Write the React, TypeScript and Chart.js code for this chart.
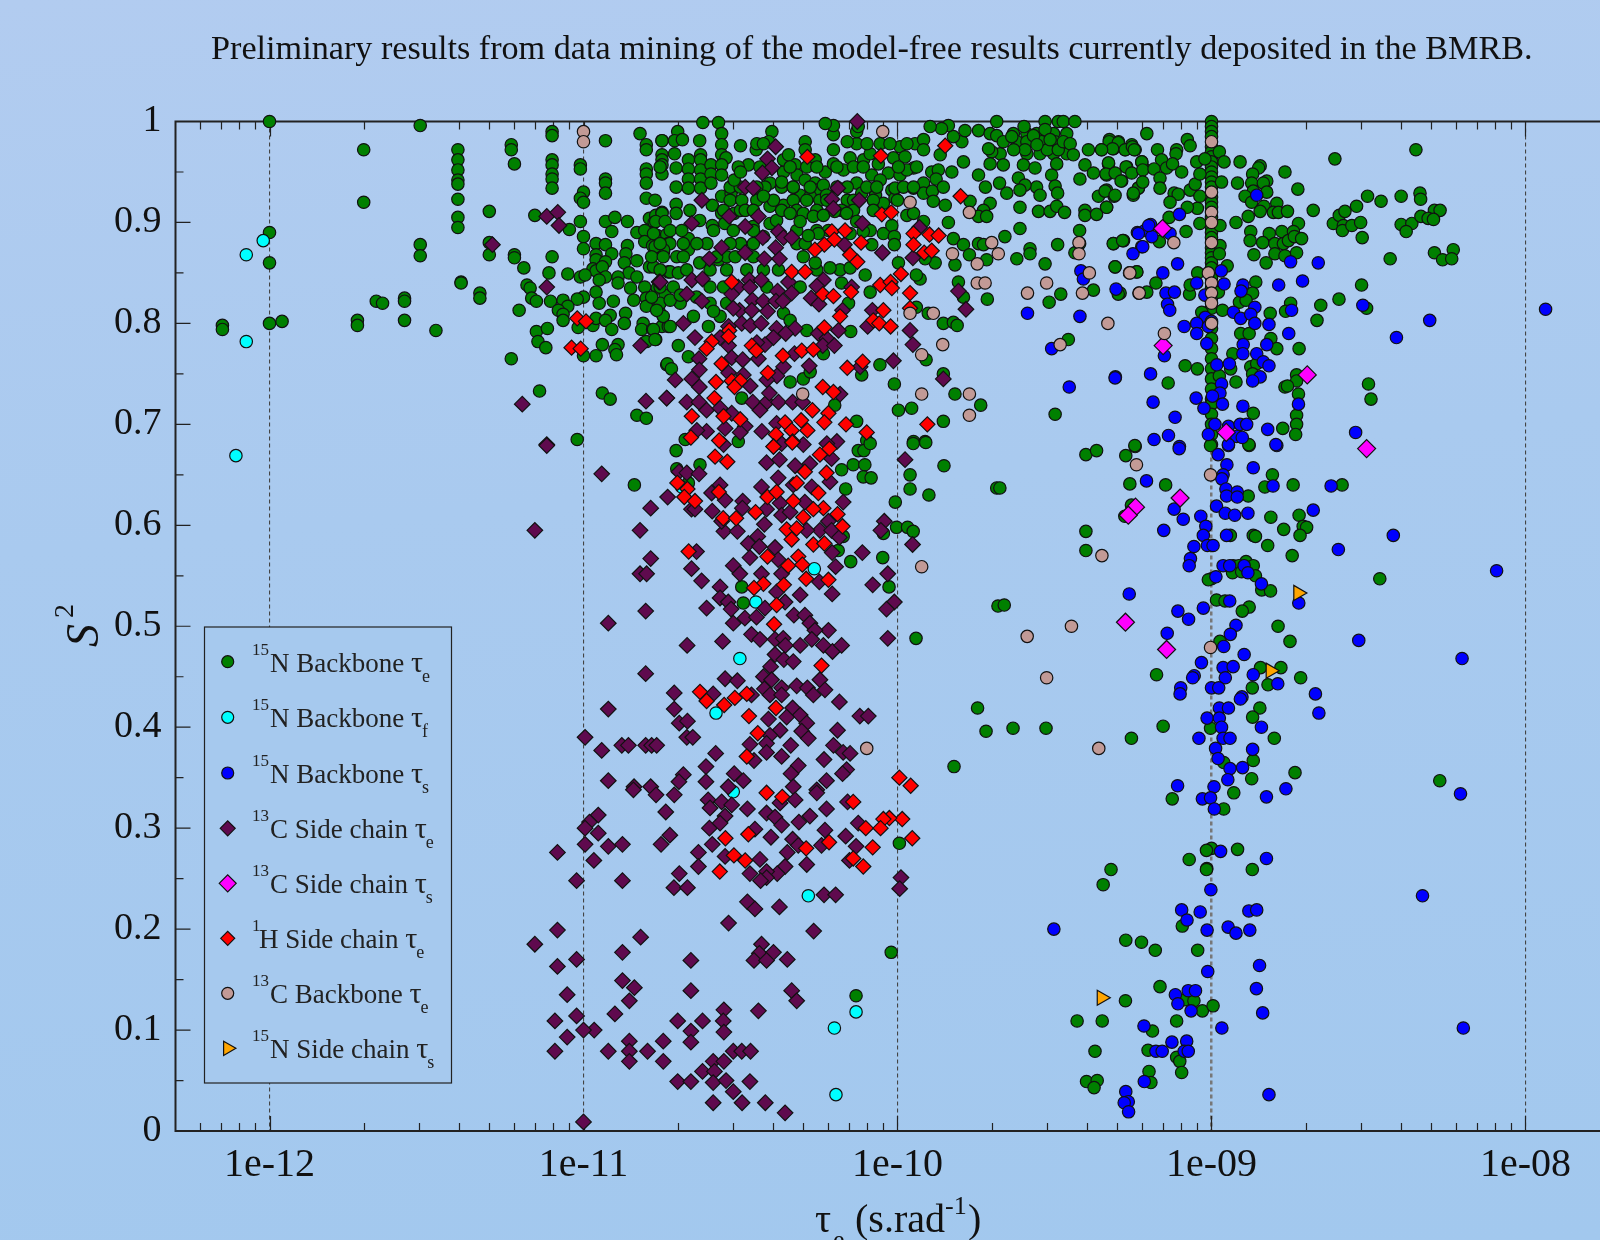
import React, { useEffect, useRef } from "react";
import { Chart, registerables } from "chart.js";
import { drawPoint } from "chart.js/helpers";

Chart.register(...registerables);

// Every pair is [log10(tau in s), S2].
const nBackboneTe: number[][] = [
[-12,1],[-11.52,.996],[-11.7,.972],[-11.7,.92],[-12,.89],[-12,.86],[-12,.8],[-11.96,.802],[-12.15,.798],[-12.15,.794],[-11.72,.803],[-11.72,.798],[-11.66,.822],[-11.64,.82],[-11.57,.825],[-11.57,.822],[-11.57,.803],[-11.47,.793],[-11.52,.878],[-11.52,.867],
[-11.4,.972],[-11.4,.962],[-11.4,.952],[-11.4,.942],[-11.4,.938],[-11.4,.923],[-11.4,.905],[-11.4,.895],[-11.3,.911],[-11.3,.88],[-11.3,.868],[-11.23,.977],[-11.23,.972],[-11.22,.958],[-11.22,.868],[-11.22,.865],[-11.39,.841],[-11.39,.84],[-11.33,.83],[-11.33,.825],[-11.19,.855],[-11.155,.907],
[-11.1,.99],[-11.1,.986],[-11.1,.962],[-11.1,.957],[-11.1,.948],[-11.1,.943],[-11.1,.934],[-11.1,.866],[-11.11,.85],[-11.045,.893],[-11.18,.838],[-11.17,.835],[-11.165,.825],[-11.15,.822],[-11.105,.822],[-11.205,.813],[-11.15,.792],[-11.115,.795],[-11.145,.782],[-11.12,.776],[-11.23,.765],[-11.14,.733],[-10.94,.731],[-10.915,.725],[-10.83,.709],[-10.8,.706],[-11.02,.685],
[-10.93,.981],[-10.82,.988],[-10.75,.981],[-10.8,.977],[-10.8,.972],[-11.01,.957],[-11.01,.953],[-10.93,.943],[-10.93,.939],[-10.93,.929],[-10.8,.953],[-10.8,.948],[-10.8,.939],[-10.8,.924],[-10.75,.967],[-10.75,.962],[-10.75,.957],[-10.75,.948],[-11,.93],[-11.01,.924],[-11,.92],[-11.01,.901],[-11,.886],[-11,.874],
[-10.93,.901],[-10.9,.905],[-10.86,.901],[-10.91,.891],[-10.83,.89],[-10.79,.904],[-10.77,.907],[-10.75,.91],[-10.775,.9],[-10.79,.89],[-10.805,.892],[-10.805,.881],[-10.78,.877],[-10.765,.887],[-10.735,.888],[-10.73,.879],[-10.745,.871],[-10.96,.879],[-10.93,.878],[-10.96,.868],[-10.91,.869],[-10.96,.863],[-10.93,.861],[-10.97,.854],[-10.96,.852],[-10.94,.856],[-11.01,.846],[-10.995,.848],[-11.05,.849],[-10.93,.846],[-10.95,.843],[-10.86,.877],[-10.865,.869],[-10.87,.86],[-10.83,.862],[-10.79,.856],[-10.855,.85],[-10.83,.846],[-10.89,.846],[-10.89,.84],[-10.85,.835],[-10.805,.836],[-10.765,.835],[-10.73,.851],
[-10.96,.831],[-11,.826],[-11.02,.824],[-10.95,.82],[-10.905,.822],[-10.84,.823],[-10.8,.825],[-10.74,.828],[-10.77,.82],[-10.8,.817],[-10.76,.812],[-11.065,.823],[-11.05,.817],[-11.08,.813],[-11.065,.809],[-11.065,.803],[-11.017,.796],[-10.97,.798],[-10.96,.805],[-10.915,.808],[-10.93,.803],[-10.91,.794],[-10.866,.81],[-10.87,.8],[-10.81,.8],[-10.815,.794],[-10.78,.794],[-10.75,.797],[-10.73,.797],[-10.77,.784],[-10.8,.782],[-10.94,.779],[-10.89,.779],[-10.9,.774],[-10.895,.769],[-10.96,.768],[-11,.768],[-10.735,.759],
[-10.62,.999],[-10.57,.999],[-10.7,.99],[-10.56,.988],[-10.75,.981],[-10.71,.981],[-10.685,.982],[-10.63,.981],[-10.56,.977],[-10.5,.976],[-10.4,.99],[-10.41,.98],[-10.45,.972],[-10.475,.957],[-10.71,.968],[-10.705,.954],[-10.666,.962],[-10.666,.953],[-10.666,.943],[-10.666,.934],[-10.627,.967],[-10.627,.962],[-10.627,.952],[-10.627,.943],[-10.627,.934],[-10.594,.957],[-10.594,.948],[-10.594,.939],[-10.56,.967],[-10.546,.964],[-10.56,.957],[-10.56,.947],[-10.56,.926],[-10.53,.929],[-10.705,.935],[-10.705,.918],[-10.705,.909],[-10.75,.909],[-10.77,.901],[-10.725,.879],[-10.777,.889],[-10.74,.901],[-10.666,.884],[-10.63,.902],[-10.59,.917],[-10.56,.909],[-10.52,.909],[-10.5,.912],[-10.59,.897],[-10.55,.899],[-10.607,.879],[-10.666,.873],[-10.703,.866],[-10.745,.873],[-10.772,.876],[-10.777,.856],[-10.724,.851],[-10.698,.85],[-10.63,.86],[-10.57,.863],[-10.544,.866],[-10.5,.879],[-10.46,.896],[-10.427,.886],[-10.406,.899],[-10.385,.902],[-10.363,.917],[-10.406,.916],[-10.406,.939],[-10.363,.95],[-10.363,.962],[-10.326,.957],[-10.347,.967],[-10.32,.947],[-10.294,.942],[-10.294,.98],[-10.294,.972],[-10.262,.962],[-10.23,.95],[-10.204,.958],[-10.204,.972],[-10.204,.987],[-10.204,.996],[-10.23,.998],[-10.172,.952],[-10.13,.978],[-10.13,.99],[-10.125,.995],[-10.16,.98],[-10.108,.962],[-10.151,.964],[-10.087,.968],[-10.082,.947],[-10.13,.939],[-10.16,.935],[-10.262,.939],[-10.257,.932],[-10.236,.937],[-10.31,.927],[-10.278,.926],[-10.247,.922],[-10.226,.927],[-10.16,.922],[-10.114,.929],[-10.07,.927],[-10.018,.932],[-10.008,.924],[-10.045,.919],[-10.008,.934],[-10.029,.949],[-9.992,.947],[-10.061,.958],[-10.055,.942],[-10.013,.964],[-9.992,.975],[-9.976,.965],[-9.944,.978],[-9.917,.982],[-9.917,.972],[-9.949,.954],[-9.97,.952],[-9.949,.934],[-9.917,.939],[-9.891,.95],[-9.87,.952],[-9.877,.943],[-9.917,.929],[-9.889,.931],[-9.886,.921],[-9.854,.935],[-9.848,.917],[-9.827,.95],[-9.864,.967],[-9.79,.96],[-9.795,.98],[-9.822,.985],[-9.785,.991],[-9.742,.991],[-9.838,.996],[-9.86,.993],[-9.896,.995],
[-10.448,.978],[-10.427,.978],[-10.097,.978],[-10.055,.978],[-10.024,.978],[-9.97,.978],
[-10.756,.955],[-10.507,.955],[-10.438,.955],[-10.342,.955],[-10.289,.955],[-10.257,.955],[-10.193,.955],[-10.14,.955],[-10.109,.955],[-9.997,.955],[-9.939,.955],
[-10.533,.935],[-10.501,.935],[-10.422,.935],[-10.369,.935],[-10.332,.935],[-10.278,.935],[-10.193,.935],[-10.098,.935],[-10.066,.935],[-9.981,.935],[-9.949,.935],
[-10.772,.922],[-10.533,.922],[-10.496,.922],[-10.448,.922],[-10.395,.922],[-10.332,.922],[-10.289,.922],[-10.225,.922],[-10.14,.922],[-10.077,.922],
[-10.661,.912],[-10.554,.912],[-10.485,.912],[-10.459,.912],[-10.369,.912],[-10.321,.912],[-10.257,.912],[-10.178,.912],[-10.14,.912],
[-10.724,.892],[-10.687,.892],[-10.586,.892],[-10.523,.892],[-10.459,.892],[-10.321,.892],[-10.257,.892],[-10.22,.892],
[-10.756,.879],[-10.682,.879],[-10.639,.879],[-10.533,.879],[-10.459,.879],[-10.321,.879],[-10.294,.879],
[-10.783,.866],[-10.746,.866],[-10.682,.866],[-10.576,.866],[-10.517,.866],[-10.459,.866],
[-10.756,.853],[-10.671,.853],[-10.597,.853],[-10.544,.853],[-10.48,.853],[-10.427,.853],[-10.379,.853],[-10.257,.853],[-10.183,.853],
[-10.756,.836],[-10.714,.836],[-10.597,.836],[-10.554,.836],[-10.416,.836],[-10.31,.836],
[-10.756,.82],[-10.692,.82],[-10.597,.82],[-10.544,.82],
[-10.746,.807],[-10.65,.807],[-10.565,.807],
[-9.705,.988],[-9.631,.988],[-9.588,.988],[-9.557,.988],[-9.503,.988],[-9.461,.988],[-9.62,.98],[-9.588,.98],[-9.541,.98],[-9.498,.98],[-9.673,.968],[-9.588,.968],[-9.546,.968],[-9.503,.968],[-9.461,.968],
[-9.684,1],[-9.684,.986],[-9.7,.97],[-9.663,.98],[-9.636,.985],[-9.597,.995],[-9.567,.986],[-9.53,1],[-9.53,.992],[-9.488,1],[-9.472,1],[-9.435,1],[-9.594,.972],[-9.523,.972],[-9.488,.972],[-9.472,.98],[-9.45,.978],[-9.44,.967],[-9.514,.982],[-9.556,.977],[-9.63,.972],[-9.71,.973],[-9.663,.957],[-9.705,.958],[-9.599,.957],[-9.562,.954],[-9.493,.958],[-9.509,.947],[-9.615,.944],[-9.557,.935],[-9.594,.937],[-9.61,.932],[-9.498,.936],[-9.49,.929],[-9.546,.927],[-9.652,.929],[-9.675,.939],[-9.72,.935],[-9.742,.947],[-9.705,.919],[-9.769,.921],[-9.726,.912],[-9.742,.906],[-9.716,.906],[-9.551,.911],[-9.514,.911],[-9.493,.916],[-9.468,.91],[-9.61,.915],[-9.61,.894],[-9.658,.886],[-9.578,.874],[-9.578,.869],[-9.62,.864],[-9.53,.859],[-9.49,.878],[-9.42,.892],[-9.435,.87],[-9.42,.879],
[-9.392,.972],[-9.35,.972],[-9.312,.973],[-9.296,.98],[-9.325,.982],[-9.254,.977],[-9.275,.972],[-9.243,.972],[-9.403,.957],[-9.328,.958],[-9.27,.955],[-9.222,.96],[-9.217,.954],[-9.376,.949],[-9.334,.947],[-9.419,.943],[-9.286,.941],[-9.233,.934],[-9.249,.927],[-9.31,.926],[-9.36,.926],[-9.334,.932],[-9.334,.915],[-9.403,.912],[-9.403,.907],[-9.366,.908],[-9.312,.879],[-9.28,.882],[-9.307,.856],[-9.238,.851],[-9.376,.833],[-9.48,.829],[-9.517,.821],[-9.291,.83],
[-9.997,.86],[-9.928,.844],[-9.94,.848],[-9.806,.841],[-9.79,.826],[-9.714,.824],[-9.902,.81],[-9.854,.8],[-9.822,.801],[-9.81,.798],[-9.94,.816],[-9.838,.9],[-9.822,.884],[-9.79,.878],[-9.771,.868],[-9.817,.858],[-9.88,.86],[-9.912,.864],[-9.742,.879],[-9.726,.878],[-9.716,.863],[-9.456,.784],[-9.498,.71],[-9.735,.719],[-9.817,.73],[-9.854,.75],[-9.909,.764],[-9.955,.716],[-9.997,.714],[-10.01,.74],[-10.056,.759],[-10.114,.749],[-10.149,.792],[-10.289,.793],[-10.342,.742],[-10.3,.745],[-10.278,.752],[-10.156,.82],[-10.087,.831],[-10.103,.848],[-10.151,.855],[-10.215,.855],[-10.262,.86],[-10.3,.866],[-10.178,.84],[-10.363,.81],[-10.342,.803],[-10.602,.797],[-10.698,.778],[-10.733,.76],[-10.72,.755],[-10.666,.767],[-10.496,.726],[-10.777,.794],[-10.724,.797],[-10.772,.784],[-10.724,.823],[-10.783,.826],[-10.767,.813],[-10.586,.812],[-10.64,.826],[-10.692,.828],[-10.13,.703],[-10.098,.684],[-9.854,.703],[-9.949,.683],[-9.912,.683],[-10.2,.719],[-10.236,.77],[-10.507,.683],[-10.676,.685],
[-10.52,.942],[-10.5,.95],[-10.448,.935],[-10.427,.926],[-10.369,.94],[-10.332,.935],[-10.3,.909],[-10.268,.906],[-10.236,.907],[-10.2,.911],[-10.162,.909],[-10.13,.901],[-10.087,.892],[-10.045,.889],[-10.018,.897],[-10.01,.886],[-10.01,.878],[-10.082,.878],[-10.109,.891],[-10.151,.889],[-10.252,.889],[-10.284,.887],[-10.31,.901],[-10.342,.909],[-9.97,.907],[-9.949,.909],[-9.917,.901],[-10,.922],[-10.077,.912],
[-9,1],[-9,.995],[-9,.99],[-9,.985],[-9,.975],[-9,.97],[-9,.965],[-9,.96],[-9,.955],[-9,.95],[-9,.945],[-9,.94],[-9,.935],[-9,.925],[-9,.92],[-9,.915],[-9,.905],[-9,.895],[-9,.89],[-9,.885],[-9,.875],[-9,.87],[-9,.865],[-9,.86],[-9,.855],[-9,.845],[-9,.835],[-9,.825],[-9,.815],[-9,.795],[-9,.785],[-9,.775],[-9,.765],[-9,.755],[-9,.745],[-9,.735],[-9,.725],[-9,.72],[-9,.71],[-9,.7],[-9,.69],[-9,.68],[-9,.547],[-9,.28],[-9.015,.26],
[-9.206,.988],[-9.326,.98],[-9.297,.979],[-9.315,.973],[-9.275,.972],[-9.252,.975],[-9.246,.972],[-9.35,.972],[-9.172,.972],[-9.159,.962],[-9.111,.972],[-9.077,.982],[-9.068,.976],[-9.113,.968],[-9.328,.959],[-9.272,.955],[-9.254,.949],[-9.222,.96],[-9.219,.952],[-9.183,.953],[-9.143,.954],[-9.124,.958],[-9.095,.95],[-9.164,.944],[-9.336,.948],[-9.307,.949],[-9.288,.941],[-9.233,.934],[-9.219,.94],[-9.164,.934],[-9.339,.931],[-9.307,.927],[-9.249,.929],[-9.119,.929],[-9.106,.928],[-9.132,.92],[-9.334,.915],[-9.068,.932],[-9.047,.96],[-9.021,.963],[-8.975,.97],[-8.96,.96],[-8.909,.96],[-8.845,.956],[-8.85,.954],[-8.869,.948],[-8.766,.95],[-8.968,.94],[-8.917,.939],[-8.872,.939],[-8.824,.941],[-8.835,.939],[-8.867,.931],[-8.824,.93],[-8.893,.926],[-8.725,.933],[-8.607,.963],[-8.349,.972],[-8.503,.926],[-8.46,.921],[-8.538,.916],[-8.396,.926],[-8.336,.929],[-8.334,.923],[-8.29,.912],[-8.272,.912],[-8.676,.912],[-8.792,.919],[-8.833,.916],[-8.872,.92],[-8.845,.911],[-8.803,.91],[-8.787,.91],[-8.758,.911],[-8.883,.906],[-8.723,.899],[-8.922,.9],[-9.081,.891],[-9.037,.899],[-9.045,.914],[-9.077,.915],[-9.037,.926],[-9.052,.938],[-9.037,.948],[-9.135,.905],[-8.973,.897],[-8.875,.891],[-8.816,.889],[-8.776,.891],[-8.739,.891],[-8.877,.882],[-8.837,.88],[-8.798,.879],[-8.771,.879],[-8.755,.882],[-8.736,.886],[-8.713,.884],[-8.865,.868],[-8.826,.86],[-8.798,.869],[-8.766,.867],[-8.729,.87],[-8.612,.899],[-8.593,.907],[-8.575,.911],[-8.58,.897],[-8.583,.892],[-8.553,.897],[-8.525,.9],[-8.52,.885],[-8.396,.898],[-8.362,.899],[-8.38,.891],[-8.333,.906],[-8.31,.904],[-8.293,.903],[-8.431,.864],[-8.29,.87],[-8.23,.873],[-8.264,.863],[-8.235,.864],[-9.313,.879],[-9.283,.882],[-9.166,.881],[-8.973,.877],[-8.975,.869],[-9.307,.856],[-9.238,.851],[-8.95,.857],[-9.044,.85],[-9.177,.84],[-9.297,.829],[-9.206,.831],[-9.07,.829],[-9.068,.838],[-8.978,.831],[-8.859,.841],[-8.869,.83],[-8.911,.821],[-8.89,.823],[-8.748,.82],[-8.764,.812],[-8.813,.81],[-8.652,.818],[-8.594,.824],[-8.522,.838],[-8.506,.815],[-8.664,.803],[-8.965,.813],[-9.031,.811],[-8.907,.79],[-8.88,.79],[-8.811,.785],[-8.792,.775],[-8.721,.775],[-8.932,.77],[-9.084,.758],[-9.045,.755],[-9.138,.741],[-8.875,.757],[-8.856,.76],[-8.939,.755],[-8.975,.748],[-8.922,.742],[-8.869,.75],[-8.729,.749],[-8.729,.743],[-8.766,.737],[-8.758,.738],[-8.723,.73],[-8.5,.74],[-8.492,.725],[-8.729,.709],[-8.729,.7],[-8.732,.69],[-8.867,.711],[-8.773,.696],[-9.243,.678],[-8.88,.679],
[-10.838,.64],[-10.705,.674],[-10.703,.656],[-10.629,.66],[-10.666,.642],[-10.178,.655],[-10.141,.66],[-10.104,.66],[-10.109,.648],[-10.084,.647],[-10.125,.674],[-10.107,.674],[-10.087,.681],[-9.95,.681],[-9.91,.682],[-9.852,.659],[-9.96,.65],[-9.96,.636],[-9.9,.63],[-10.007,.623],[-10.165,.636],[-10.003,.598],[-9.968,.598],[-9.95,.594],[-10.045,.592],[-10.173,.589],[-10.189,.575],[-10.149,.564],[-10.047,.568],[-10.027,.539],[-9.941,.488],[-10.496,.539],[-10.491,.523],[-9.745,.419],[-9.718,.396],[-9.82,.361],[-9.684,.637],[-9.68,.52],[-9.994,.285],[-10.02,.177],[-10.132,.134],
[-9.4,.67],[-9.366,.674],[-9.273,.669],[-9.244,.679],[-9.003,.679],[-8.881,.68],[-9.26,.641],[-9.146,.64],[-9.674,.637],[-8.806,.65],[-8.83,.638],[-8.74,.64],[-8.584,.64],[-8.883,.629],[-8.811,.608],[-8.721,.61],[-8.77,.596],[-8.708,.599],[-8.697,.598],[-8.718,.59],[-8.821,.58],[-8.743,.57],[-8.94,.59],[-8.867,.59],[-8.86,.589],[-9.276,.609],[-9.4,.594],[-9.4,.575],[-9.255,.62],[-8.89,.564],[-8.931,.56],[-8.867,.56],[-8.913,.56],[-8.933,.553],[-8.86,.55],[-8.904,.554],[-9.01,.546],[-8.84,.536],[-8.812,.535],[-8.984,.526],[-8.957,.525],[-8.88,.519],[-8.902,.515],[-8.788,.5],[-8.75,.485],[-8.973,.485],[-8.464,.547],[-9.175,.452],[-8.844,.459],[-8.779,.459],[-8.716,.449],[-8.82,.442],[-8.87,.439],[-8.846,.419],[-8.869,.41],[-9.003,.399],[-8.8,.389],[-8.867,.367],[-8.961,.365],[-8.872,.349],[-8.734,.355],[-8.273,.347],[-9.154,.401],[-9.255,.389],[-9.632,.399],[-9.527,.399],[-9.66,.521],
[-9.125,.329],[-8.961,.319],[-8.929,.335],[-9.016,.278],[-8.917,.279],[-9.071,.269],[-9.016,.259],[-8.87,.259],[-9.32,.259],[-9.345,.244],[-9.093,.203],[-9.273,.189],[-9.223,.187],[-9.179,.179],[-9.044,.179],[-9.164,.143],[-9.274,.129],[-9.085,.13],[-9.056,.129],[-9.029,.119],[-8.995,.124],[-9.111,.109],[-9.428,.109],[-9.348,.109],[-9.188,.099],[-9.371,.079],[-9.202,.08],[-9.111,.073],[-9.101,.069],[-9.095,.058],[-9.199,.059],[-9.193,.048],[-9.398,.049],[-9.364,.05],[-9.374,.043]
];

const nBackboneTf: number[][] = [
[-12.02,.882],[-12.074,.868],[-12.074,.782],[-12.107,.669],[-10.502,.468],[-10.578,.414],[-10.451,.524],[-10.265,.557],[-10.687,.638],[-10.284,.233],[-10.132,.118],[-10.201,.102],[-10.196,.036],[-10.523,.336]
];

const nBackboneTs: number[][] = [
[-8.856,.927],[-9.102,.908],[-9.194,.898],[-9.236,.89],[-9.212,.892],[-9.19,.886],[-9.132,.889],[-9.222,.876],[-9.25,.869],[-9.108,.859],[-9.155,.85],[-8.748,.861],[-8.66,.86],[-8.969,.852],[-8.96,.839],[-9.047,.84],[-8.786,.838],[-8.71,.842],[-8.9,.838],[-8.906,.832],[-9.304,.834],[-9.145,.83],[-9.118,.831],[-9.021,.828],[-9.14,.819],[-9.133,.813],[-8.862,.816],[-8.93,.811],[-8.745,.813],[-8.518,.818],[-8.907,.805],[-8.875,.809],[-8.862,.8],[-8.817,.799],[-9.02,.806],[-9,.802],[-9.047,.8],[-9.087,.797],[-9.047,.79],[-9.01,.797],[-8.754,.79],[-8.411,.786],[-8.305,.803],[-7.936,.814],[-9.015,.78],[-8.899,.779],[-8.824,.779],[-8.9,.77],[-8.856,.77],[-9.15,.768],[-8.835,.762],[-8.817,.758],[-8.983,.759],[-8.943,.76],[-9.306,.747],[-9.194,.75],[-8.845,.747],[-8.869,.743],[-8.968,.74],[-8.973,.731],[-8.997,.728],[-9.049,.726],[-8.723,.72],[-9.186,.722],[-8.965,.72],[-8.9,.718],[-9.024,.716],[-9.116,.707],[-8.989,.7],[-8.946,.698],[-8.909,.7],[-8.888,.7],[-8.821,.695],[-8.541,.692],[-9.01,.69],[-9.137,.689],[-9.183,.685],[-8.92,.688],[-8.902,.687],[-8.792,.679],[-8.946,.679],[-9.102,.678],
[-9.233,.889],[-9.2,.897],[-9.219,.876],[-9.416,.852],[-9.408,.844],[-9.586,.81],[-9.419,.807],[-9.509,.775],[-9.307,.746],[-9.453,.737],
[-9.103,.676],[-8.979,.67],[-8.946,.68],[-8.795,.68],[-8.951,.66],[-8.867,.657],[-8.963,.65],[-8.967,.646],[-9.207,.644],[-8.804,.639],[-8.619,.639],[-8.954,.636],[-8.918,.633],[-8.952,.629],[-8.918,.628],[-8.984,.619],[-8.956,.612],[-8.926,.61],[-8.884,.612],[-8.676,.615],[-9.119,.616],[-9.034,.609],[-9.09,.606],[-9.018,.599],[-9.152,.595],[-9.026,.59],[-8.952,.59],[-8.421,.59],[-8.596,.576],[-9.056,.579],[-9.013,.58],[-8.995,.58],[-9.067,.567],[-9.071,.56],[-8.963,.56],[-8.942,.56],[-8.896,.56],[-8.884,.553],[-8.986,.549],[-8.841,.542],[-8.092,.555],[-8.722,.523],[-8.942,.525],[-9.026,.518],[-9.107,.515],[-9.262,.532],[-9.073,.507],[-8.922,.501],[-8.94,.492],[-9.141,.493],[-8.961,.48],[-8.531,.486],[-8.202,.468],[-8.896,.472],[-9.032,.464],[-8.963,.459],[-8.931,.46],[-8.867,.452],[-8.956,.449],[-9.055,.451],[-9.06,.449],[-8.789,.443],[-9,.439],[-8.977,.439],[-9.098,.439],[-9.1,.433],[-8.669,.433],[-8.903,.43],[-8.908,.428],[-8.658,.414],[-8.975,.419],[-8.946,.419],[-9.014,.409],[-8.975,.409],[-8.841,.4],[-8.968,.4],[-9.04,.389],[-8.963,.389],[-8.941,.389],[-8.987,.379],[-8.869,.378],[-8.979,.369],[-8.941,.359],[-8.901,.36],[-8.948,.348],[-9.108,.342],[-8.992,.341],[-8.763,.339],
[-9.029,.329],[-9.003,.33],[-8.991,.319],[-8.825,.331],[-8.207,.334],[-8.971,.277],[-8.825,.27],[-9.002,.239],[-8.328,.233],[-9.095,.219],[-9.036,.217],[-8.881,.218],[-8.856,.219],[-9.078,.209],[-9.502,.2],[-9.014,.199],[-8.947,.202],[-8.922,.196],[-8.878,.199],[-8.847,.164],[-9.012,.158],[-8.857,.141],[-9.115,.135],[-9.074,.139],[-9.051,.139],[-9.107,.126],[-9.065,.119],[-8.837,.117],[-8.967,.102],[-8.198,.102],[-9.215,.104],[-9.126,.088],[-9.079,.089],[-9.087,.079],[-9.074,.079],[-9.177,.079],[-9.157,.079],[-9.214,.049],[-8.817,.036],[-9.273,.039],[-9.265,.029],[-9.278,.028],[-9.264,.019]
];

const cSideChainTe: number[][] = [
[-11.117,.906],[-11.082,.91],[-11.078,.897],[-11.29,.878],[-11.117,.836],[-10.759,.841],[-10.818,.778],[-11.195,.72],[-10.801,.723],[-10.735,.726],[-11.117,.68],
[-10.128,1],[-10.388,.975],[-10.414,.963],[-10.4,.954],[-10.43,.949],[-10.485,.935],[-10.459,.934],[-10.623,.922],[-10.19,.934],[-10.209,.923],[-10.122,.922],[-10.204,.914],[-10.536,.906],[-10.443,.906],[-10.655,.899],[-10.485,.896],[-10.112,.899],[-9.93,.895],[-10.429,.885],[-10.379,.891],[-10.363,.885],[-10.337,.885],[-10.56,.875],[-10.388,.875],[-10.485,.87],[-10.169,.878],[-10.599,.864],[-10.424,.864],[-10.376,.864],[-10.048,.87],[-9.951,.865],[-10.756,.841],[-10.655,.843],[-10.621,.844],[-10.472,.843],[-10.434,.843],[-10.347,.841],[-10.236,.843],[-10.257,.837],[-10.507,.836],[-10.47,.836],[-10.528,.829],[-10.382,.832],[-10.671,.829],[-10.337,.83],[-10.623,.822],[-10.462,.823],[-10.427,.822],[-10.387,.822],[-10.365,.822],[-10.275,.825],[-10.25,.819],[-10.146,.836],[-10.503,.813],[-10.464,.813],[-10.523,.815],[-10.414,.812],[-10.682,.8],[-9.806,.832],[-9.782,.814],[-10.08,.813],[-10.175,.813],[-10.496,.8],[-10.469,.798],[-10.434,.8],[-10.538,.797],[-10.326,.795],[-10.385,.795],[-10.356,.79],[-10.645,.786],[-10.565,.786],[-10.188,.793],[-10.252,.79],[-10.225,.785],[-10.095,.797],[-9.96,.793],[-9.951,.779],[-10.238,.778],[-10.201,.778],[-10.395,.786],[-10.422,.779],[-10.538,.778],[-10.448,.781],[-10.528,.766],[-10.632,.765],[-10.493,.764],[-10.443,.765],[-10.328,.77],[-10.281,.758],[-10.363,.757],[-10.384,.748],[-10.631,.754],[-10.013,.763],[-10.119,.757],[-10.538,.751],[-10.708,.744],[-10.655,.745],[-10.631,.737],[-10.491,.749],[-10.416,.744],[-10.469,.738],[-9.854,.745],[-10.735,.726],[-10.671,.722],[-10.632,.722],[-10.608,.714],[-10.528,.711],[-10.461,.722],[-10.416,.722],[-10.379,.722],[-10.438,.714],[-10.408,.731],[-10.334,.722],[-10.183,.73],[-10.302,.722],[-10.565,.716],[-10.485,.698],[-10.549,.696],[-10.608,.693],[-10.639,.694],[-10.501,.692],[-10.432,.693],[-10.385,.701],[-10.193,.683],[-10.225,.681],[-10.3,.68],[-10.554,.68],[-10.369,.681],
[-11.117,.679],[-9.976,.665],[-10.942,.651],[-10.696,.653],[-10.671,.652],[-10.632,.651],[-10.417,.662],[-10.376,.665],[-10.326,.659],[-10.21,.666],[-10.279,.661],[-10.732,.628],[-10.786,.617],[-10.433,.638],[-10.592,.632],[-10.565,.64],[-10.549,.625],[-10.493,.624],[-10.38,.647],[-10.332,.64],[-10.273,.638],[-10.215,.643],[-10.173,.623],[-10.656,.616],[-10.645,.616],[-10.59,.614],[-10.494,.617],[-10.417,.616],[-10.374,.622],[-10.295,.623],[-10.369,.61],[-10.342,.613],[-11.155,.595],[-10.82,.595],[-10.553,.594],[-10.51,.594],[-10.56,.604],[-10.424,.601],[-10.22,.604],[-10.247,.595],[-10.21,.595],[-10.289,.595],[-10.185,.588],[-10.445,.589],[-10.475,.582],[-10.44,.579],[-10.39,.578],[-10.47,.568],[-10.38,.566],[-10.64,.574],[-10.786,.567],[-10.208,.573],[-10.112,.573],[-10.042,.604],[-10.053,.595],[-9.952,.581],[-10.197,.559],[-10.523,.56],[-10.502,.552],[-10.656,.557],[-10.82,.552],[-10.799,.552],[-10.624,.545],[-10.565,.539],[-10.369,.552],[-10.433,.552],[-10.249,.544],[-10.079,.541],[-10.031,.552],[-10.31,.531],[-10.208,.532],[-10.385,.534],[-10.358,.524],[-10.565,.528],[-10.539,.524],[-10.608,.518],[-10.53,.517],[-10.422,.518],[-10.802,.515],[-10.01,.524],[-10.035,.517],[-10.921,.503],[-10.486,.508],[-10.523,.503],[-10.449,.509],[-10.33,.511],[-10.295,.511],[-10.279,.503],[-10.22,.496],[-10.263,.496],[-10.465,.492],[-10.438,.487],[-10.39,.487],[-10.364,.488],[-10.557,.485],[-10.67,.481],[-10.273,.487],[-10.31,.481],[-10.357,.481],[-10.236,.481],[-10.207,.475],[-10.178,.481],[-10.031,.488],[-10.39,.472],[-10.362,.467],[-10.332,.465],[-10.404,.46],[-10.802,.453],[-10.549,.448],[-10.51,.446],[-10.427,.45],[-10.401,.447],[-10.247,.447],[-10.369,.439],[-10.321,.441],[-10.287,.439],[-10.231,.437],[-10.424,.438],[-10.406,.432],[-10.369,.432],[-10.268,.432],[-10.711,.434],[-10.587,.433],[-10.465,.432],[-10.185,.425],[-10.921,.418],[-10.711,.418],[-10.334,.419],[-10.31,.412],[-10.353,.41],[-10.411,.408],[-10.695,.404],[-10.669,.406],[-10.289,.404],[-10.12,.411],[-10.093,.411],[-10.374,.397],[-10.305,.396],[-10.191,.397],[-10.995,.39],[-10.406,.392],[-10.284,.389],[-10.671,.39],[-10.652,.39],[-10.47,.383],[-10.204,.382],[-10.417,.384],[-10.942,.377],[-10.878,.382],[-10.857,.382],[-10.802,.382],[-10.783,.382],[-10.767,.382],[-10.34,.382],[-10.579,.374],[-10.417,.375],[-10.369,.371],[-10.234,.368],[-10.173,.375],[-10.151,.374],[-10.457,.367],[-10.61,.361],[-10.316,.362],[-10.162,.358],[-10.175,.354],[-10.339,.354],[-10.52,.354],[-10.682,.353],[-10.696,.346],[-10.61,.346],[-10.491,.347],[-10.226,.347],[-10.921,.347],[-10.839,.341],[-10.786,.341],[-10.539,.341],[-10.332,.341],[-10.257,.338],
[-10.841,.338],[-10.769,.333],[-10.711,.333],[-10.603,.328],[-10.56,.326],[-10.528,.323],[-10.478,.319],[-10.738,.316],[-10.597,.32],[-10.549,.312],[-10.326,.328],[-10.257,.335],[-10.226,.319],[-10.159,.326],[-10.374,.325],[-10.417,.315],[-10.39,.311],[-10.369,.303],[-10.279,.312],[-10.314,.306],[-10.953,.313],[-10.981,.306],[-10.995,.3],[-10.953,.295],[-10.599,.3],[-10.565,.305],[-10.725,.293],[-10.454,.299],[-10.231,.298],[-10.125,.305],[-10.995,.284],[-10.921,.282],[-10.876,.284],[-10.753,.284],[-11.083,.276],[-10.59,.284],[-10.403,.291],[-10.334,.289],[-10.316,.283],[-10.165,.292],[-10.242,.283],[-10.132,.282],[-10.967,.268],[-10.634,.276],[-10.351,.276],[-10.549,.272],[-10.438,.269],[-10.153,.268],[-10.634,.262],[-10.289,.264],[-10.358,.262],[-11.022,.248],[-10.876,.248],[-10.695,.255],[-10.47,.255],[-10.383,.255],[-10.417,.257],[-10.417,.251],[-10.436,.248],[-9.989,.251],[-9.993,.24],[-10.712,.241],[-10.669,.241],[-10.234,.234],[-10.197,.234],[-10.478,.227],[-10.454,.22],[-10.376,.222],[-10.538,.206],[-10.267,.198],[-11.083,.199],[-10.818,.192],[-11.155,.185],[-10.433,.185],[-10.876,.177],[-10.44,.176],[-10.395,.177],[-11.022,.17],[-11.083,.163],[-10.658,.169],[-10.457,.169],[-10.417,.169],[-10.351,.17],[-10.876,.149],[-10.838,.142],[-10.658,.139],[-10.337,.139],[-11.052,.135],[-10.321,.129],[-10.854,.129],[-10.553,.12],[-10.443,.119],[-10.9,.116],[-11.022,.114],[-11.091,.109],[-10.7,.109],[-10.621,.109],[-10.555,.109],[-10.966,.1],[-11,.1],[-10.658,.099],[-10.553,.098],[-11.052,.093],[-10.854,.089],[-10.746,.089],[-10.658,.088],[-11.091,.079],[-10.921,.079],[-10.854,.079],[-10.796,.079],[-10.523,.079],[-10.496,.079],[-10.468,.079],[-10.746,.069],[-10.854,.069],[-10.587,.069],[-10.553,.069],[-10.621,.059],[-10.583,.059],[-10.7,.049],[-10.658,.049],[-10.587,.048],[-10.546,.05],[-10.47,.049],[-10.523,.039],[-10.587,.028],[-10.495,.028],[-10.421,.028],[-10.358,.018],[-11,.009]
];

const cSideChainTs: number[][] = [
[-8.506,.676],[-9.1,.627],[-9.242,.618],[-9.265,.61],[-9.274,.504],[-9.143,.477],[-9.156,.894],[-9.154,.778],[-8.695,.749],[-8.953,.692]
];

const hSideChainTe: number[][] = [
[-11.02,.805],[-10.992,.802],[-11.038,.776],[-11.009,.775],
[-10.287,.965],[-10.053,.966],[-9.848,.976],[-9.799,.926],[-10.05,.908],[-10.02,.91],[-9.949,.889],[-9.898,.888],[-9.869,.887],[-9.949,.878],[-9.915,.87],[-9.891,.872],[-10.209,.891],[-10.167,.892],[-10.201,.883],[-10.116,.88],[-10.233,.878],[-10.263,.873],[-10.151,.868],[-10.128,.861],[-10.337,.851],[-10.294,.851],[-10.528,.841],[-9.989,.849],[-10.055,.838],[-10.022,.841],[-10.018,.835],[-10.148,.831],[-10.238,.829],[-10.204,.827],[-9.96,.83],[-9.96,.815],[-10.045,.813],[-10.183,.807],[-10.077,.803],[-10.058,.8],[-10.022,.797],[-10.233,.796],[-10.536,.793],[-10.538,.787],[-10.592,.782],[-10.608,.775],[-10.464,.778],[-10.45,.773],[-10.305,.773],[-10.268,.774],[-10.365,.768],[-10.56,.76],[-10.413,.751],[-10.16,.756],[-10.111,.762],[-10.578,.742],[-10.528,.743],[-10.501,.743],[-10.519,.737],[-10.583,.726],[-10.238,.737],[-10.204,.732],[-10.271,.714],[-10.22,.711],[-10.655,.708],[-10.554,.708],[-10.501,.705],[-10.307,.704],[-10.358,.702],[-10.233,.702],[-10.164,.7],[-10.337,.694],[-10.287,.694],[-10.098,.692],[-9.905,.7],[-10.658,.687],[-10.568,.684],[-10.387,.69],[-10.334,.683],[-10.395,.678],
[-10.701,.642],[-10.669,.636],[-10.679,.628],[-10.645,.624],[-10.581,.668],[-10.542,.663],[-10.569,.633],[-10.555,.607],[-10.514,.607],[-10.452,.613],[-10.414,.628],[-10.385,.633],[-10.321,.642],[-10.332,.624],[-10.252,.632],[-10.236,.617],[-10.268,.616],[-10.3,.608],[-10.191,.611],[-10.175,.599],[-10.353,.596],[-10.321,.597],[-10.337,.586],[-10.268,.581],[-10.233,.582],[-10.665,.574],[-10.414,.569],[-10.316,.569],[-10.348,.56],[-10.303,.561],[-10.291,.547],[-10.22,.546],[-10.427,.542],[-10.457,.538],[-10.362,.541],[-10.385,.521],[-10.393,.502],[-10.242,.461],[-10.295,.653],[-10.226,.652],[-10.395,.678],[-10.335,.682],[-10.247,.67],[-10.217,.676],[-10.629,.435],[-10.608,.426],[-10.552,.422],[-10.518,.429],[-10.48,.433],[-10.387,.419],[-10.473,.411],[-10.445,.394],[-10.48,.371],[-9.994,.35],[-9.958,.342],
[-10.417,.335],[-10.367,.331],[-10.141,.326],[-9.985,.309],[-10.026,.31],[-10.045,.309],[-10.101,.3],[-10.054,.3],[-9.953,.29],[-10.548,.29],[-10.475,.294],[-10.291,.28],[-10.218,.286],[-10.079,.281],[-10.521,.273],[-10.485,.268],[-10.141,.27],[-10.109,.262],[-10.566,.257]
];

const cBackboneTe: number[][] = [
[-11,.99],[-11,.98],[-10.047,.99],[-9.96,.92],[-9.771,.91],[-9.825,.869],[-9.746,.859],[-9.7,.88],[-9.679,.869],[-9.746,.84],[-9.721,.84],[-9.586,.83],[-9.525,.84],[-9.411,.83],[-9.422,.88],[-9.422,.869],[-9.389,.85],[-9.261,.85],[-9.231,.83],[-9.96,.81],[-9.886,.81],[-9.33,.8],[-9.482,.779],[-9.856,.779],[-9.923,.769],[-9.923,.73],[-9.771,.73],[-9.771,.709],[-10.302,.73],
[-9,.98],[-9,.93],[-9,.91],[-9,.9],[-9,.88],[-9.01,.85],[-9,.84],[-9,.83],[-9,.82],[-9,.8],[-9.15,.79],[-9.12,.88],[-9.26,.85],[-9.23,.83],
[-9.923,.559],[-10.098,.379],[-9.239,.66],[-9.003,.65],[-9.349,.57],[-9.446,.5],[-9.587,.49],[-9.003,.479],[-9.525,.449],[-9.359,.379]
];

const nSideChainTs: number[][] = [[-8.724,.533],[-8.812,.456],[-9.35,.132]];

const seriesLabels = ["15N Backbone τe", "15N Backbone τf", "15N Backbone τs", "13C Side chain τe", "13C Side chain τs", "1H Side chain τe", "13C Backbone τe", "15N Side chain τs"];
const legendIsotopes = ["15", "15", "15", "13", "13", "1", "13", "15"];
const legendNames = ["N Backbone ", "N Backbone ", "N Backbone ", "C Side chain ", "C Side chain ", "H Side chain ", "C Backbone ", "N Side chain "];
const legendSubs = ["e", "f", "s", "e", "s", "e", "e", "s"];
const seriesColors = ["#008000", "#00ffff", "#0000ff", "#5f0a4e", "#ff00ff", "#ff0000", "#c29a96", "#ffa500"];
const seriesStyles = ["circle", "circle", "circle", "rectRot", "rectRot", "rectRot", "circle", "triangle"];
const seriesRadii = [6.2, 6.2, 6.2, 7.8, 9, 7.6, 6.2, 8.7];
const legendRadii = [6, 6, 6, 7.5, 8.5, 7, 6, 8.2];
const seriesRotations = [0, 0, 0, 0, 0, 0, 0, 90];
const seriesData = [nBackboneTe, nBackboneTf, nBackboneTs, cSideChainTe, cSideChainTs, hSideChainTe, cBackboneTe, nSideChainTs];
const xTickLabels = ["1e-12", "1e-11", "1e-10", "1e-09", "1e-08"];
const titleText = "Preliminary results from data mining of the model-free results currently deposited in the BMRB.";
const SERIF = '"Liberation Serif"';

const isDecade = (v: number) => {
  const l = Math.log10(v);
  return Math.abs(l - Math.round(l)) < 1e-6;
};

const frame = {
  id: "frame",
  beforeDatasetsDraw(chart: any) {
    const { ctx, chartArea: a, scales } = chart;
    ctx.save();
    ctx.strokeStyle = "#222";
    ctx.lineWidth = 1.2;
    ctx.beginPath();
    for (const t of scales.x.ticks) {
      const log = Math.log10(t.value);
      const mant = t.value / Math.pow(10, Math.floor(log + 1e-9));
      if (Math.abs(mant - Math.round(mant)) > 1e-6) continue;
      const px = Math.round(scales.x.getPixelForValue(t.value)) + 0.5;
      if (px < a.left + 2 || px > a.right) continue;
      const len = isDecade(t.value) ? 15 : 8;
      ctx.moveTo(px, a.top);
      ctx.lineTo(px, a.top + len);
      ctx.moveTo(px, a.bottom);
      ctx.lineTo(px, a.bottom - len);
    }
    for (let i = 0; i <= 20; i++) {
      const py = scales.y.getPixelForValue(i / 20);
      ctx.moveTo(a.left, py);
      ctx.lineTo(a.left + (i % 2 === 0 ? 15 : 8), py);
    }
    ctx.stroke();
    ctx.lineWidth = 2;
    ctx.beginPath();
    ctx.moveTo(a.right, a.top);
    ctx.lineTo(a.left, a.top);
    ctx.lineTo(a.left, a.bottom);
    ctx.lineTo(a.right, a.bottom);
    ctx.stroke();
    ctx.restore();
  },
  afterDraw(chart: any) {
    const { ctx } = chart;
    ctx.save();
    ctx.textAlign = "left";
    ctx.textBaseline = "alphabetic";
    ctx.fillStyle = "#111";
    // title
    ctx.font = `34.2px ${SERIF}`;
    ctx.fillText(titleText, 211, 59);
    // legend
    ctx.fillStyle = "#a6c9ee";
    ctx.fillRect(204, 627, 248, 456);
    ctx.strokeStyle = "#222";
    ctx.lineWidth = 1.2;
    ctx.strokeRect(204.5, 627, 247, 456);
    const rowsY = [661.7, 717.3, 773, 828.3, 883.3, 938.3, 993.3, 1048.3];
    seriesLabels.forEach((_, i) => {
      const y = rowsY[i];
      ctx.fillStyle = seriesColors[i];
      ctx.strokeStyle = "#111";
      ctx.lineWidth = 1.2;
      drawPoint(ctx, { pointStyle: seriesStyles[i], radius: legendRadii[i], rotation: seriesRotations[i], borderWidth: 1.2 }, 227.7, y);
      ctx.fillStyle = "#222";
      ctx.font = `17px ${SERIF}`;
      ctx.fillText(legendIsotopes[i], 252, y - 7);
      const startX = legendIsotopes[i].length === 1 ? 259 : 270;
      ctx.font = `27px ${SERIF}`;
      ctx.fillText(legendNames[i], startX, y + 10);
      const w = ctx.measureText(legendNames[i]).width;
      ctx.font = `30px ${SERIF}`;
      ctx.fillText("τ", startX + w, y + 10);
      const tw = ctx.measureText("τ").width;
      ctx.font = `18px ${SERIF}`;
      ctx.fillText(legendSubs[i], startX + w + tw - 1, y + 20);
    });
    // x axis title
    ctx.fillStyle = "#111";
    ctx.font = `40px ${SERIF}`;
    ctx.fillText("τ", 815, 1232);
    ctx.fillText("(s.rad", 855, 1232);
    ctx.fillText(")", 968, 1232);
    ctx.font = `26px ${SERIF}`;
    ctx.fillText("e", 833, 1248);
    ctx.fillText("-1", 945, 1214);
    // y axis title
    ctx.translate(98, 647);
    ctx.rotate(-Math.PI / 2);
    ctx.font = `italic 46px ${SERIF}`;
    ctx.fillText("S", 0, 0);
    ctx.font = `28px ${SERIF}`;
    ctx.fillText("2", 29, -25);
    ctx.restore();
  },
};

export default function App() {
  const ref = useRef<HTMLCanvasElement>(null);
  useEffect(() => {
    const chart = new Chart(ref.current as HTMLCanvasElement, {
      type: "scatter",
      data: {
        datasets: seriesData.map((pts, i) => ({
          label: seriesLabels[i],
          data: pts.map(([l, s]) => ({ x: Math.pow(10, l), y: s })),
          pointStyle: seriesStyles[i],
          pointRadius: seriesRadii[i],
          pointRotation: seriesRotations[i],
          backgroundColor: seriesColors[i],
          borderColor: "#111",
          borderWidth: 1.2,
          clip: false,
          order: seriesData.length - i,
        })),
      },
      options: {
        animation: false,
        responsive: false,
        layout: { autoPadding: false, padding: { top: 121.5, right: 0, left: 0, bottom: 0 } },
        plugins: { legend: { display: false }, tooltip: { enabled: false }, title: { display: false } },
        scales: {
          x: {
            type: "logarithmic",
            min: Math.pow(10, -12.2994),
            max: Math.pow(10, -7.7627),
            afterFit(s: any) { s.height = 109; s.paddingLeft = 0; s.paddingRight = 0; },
            border: { display: false, dash: [4, 3] },
            grid: {
              drawTicks: false,
              color: (c: any) => (c.tick && isDecade(c.tick.value) ? (Math.round(Math.log10(c.tick.value)) === -9 ? "#777" : "#444") : "transparent"),
              lineWidth: (c: any) => (c.tick && isDecade(c.tick.value) && Math.round(Math.log10(c.tick.value)) === -9 ? 2.5 : 1.1),
            },
            ticks: {
              autoSkip: false,
              maxRotation: 0,
              padding: 10,
              color: "#111",
              font: { family: "Liberation Serif", size: 40 },
              callback: (v: any) => (isDecade(Number(v)) ? xTickLabels[Math.round(Math.log10(Number(v))) + 12] ?? "" : ""),
            },
          },
          y: {
            min: 0,
            max: 1,
            afterFit(s: any) { s.width = 175.5; s.paddingTop = 0; s.paddingBottom = 0; },
            border: { display: false },
            grid: { display: false, drawTicks: false },
            ticks: {
              stepSize: 0.1,
              padding: 14,
              color: "#111",
              font: { family: "Liberation Serif", size: 38 },
              callback: (v: any) => String(Math.round(Number(v) * 10) / 10),
            },
          },
        },
      },
      plugins: [frame],
    } as any);
    return () => chart.destroy();
  }, []);
  return (
    <div style={{ position: "absolute", left: 0, top: 0, width: 1600, height: 1240, overflow: "hidden", background: "linear-gradient(175deg, #b2ccf0 0%, #a9caef 40%, #a2c8ee 100%)" }}>
      <canvas ref={ref} width={1600} height={1240} style={{ display: "block" }} />
    </div>
  );
}
